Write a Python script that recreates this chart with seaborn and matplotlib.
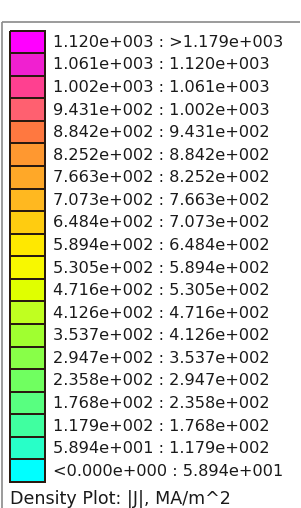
import numpy as np
import matplotlib
matplotlib.use("Agg")
import matplotlib.pyplot as plt
from matplotlib.colors import ListedColormap
import seaborn as sns

sns.set_theme(style="white")
plt.rcParams['font.family'] = ['DejaVu Sans']

# ---- data ----
lower_bounds = ["1.120e+003", "1.061e+003", "1.002e+003", "9.431e+002", "8.842e+002",
                "8.252e+002", "7.663e+002", "7.073e+002", "6.484e+002", "5.894e+002",
                "5.305e+002", "4.716e+002", "4.126e+002", "3.537e+002", "2.947e+002",
                "2.358e+002", "1.768e+002", "1.179e+002", "5.894e+001", "<0.000e+000"]
upper_bounds = [">1.179e+003", "1.120e+003", "1.061e+003", "1.002e+003", "9.431e+002",
                "8.842e+002", "8.252e+002", "7.663e+002", "7.073e+002", "6.484e+002",
                "5.894e+002", "5.305e+002", "4.716e+002", "4.126e+002", "3.537e+002",
                "2.947e+002", "2.358e+002", "1.768e+002", "1.179e+002", "5.894e+001"]
band_colors = ["#FF00FF", "#F020D0", "#FF4090", "#FF6070", "#FF7840",
               "#FF9830", "#FFA828", "#FFB820", "#FFCC10", "#FFE800",
               "#F8F800", "#E0FF00", "#C0FF20", "#A0FF30", "#88FF48",
               "#70FF60", "#58FF80", "#40FFA0", "#28FFC8", "#00FFFF"]
title = "Density Plot: |J|, MA/m^2"

labels = [f"{lo} : {hi}" for lo, hi in zip(lower_bounds, upper_bounds)]

W, H = 301, 508
fig = plt.figure(figsize=(W / 100, H / 100), dpi=100)
fig.patch.set_facecolor("white")

# frame axes in pixel coords
bg = fig.add_axes([0, 0, 1, 1])
bg.set_xlim(0, W)
bg.set_ylim(H, 0)
bg.axis("off")
bg.plot([1.5, 300], [21.5, 21.5], color="#8a8a8a", lw=1.2, solid_capstyle="butt")
bg.plot([1.5, 1.5], [21.5, H], color="#8a8a8a", lw=1.2, solid_capstyle="butt")

n = len(band_colors)
top, bottom = 30.5, 482.0
row_h = (bottom - top) / n
x0, x1 = 9.5, 45.0

# swatch column as a seaborn heatmap
hax = fig.add_axes([x0 / W, 1 - bottom / H, (x1 - x0) / W, (bottom - top) / H])
data = np.arange(n).reshape(n, 1)
sns.heatmap(data, ax=hax, cmap=ListedColormap(band_colors), cbar=False,
            linewidths=1.4, linecolor="#2a1a10", xticklabels=False, yticklabels=False)
for c in hax.collections:
    c.set_clip_on(False)
hax.set_xlabel("")
hax.set_ylabel("")

for i, lab in enumerate(labels):
    y = top + (i + 0.5) * row_h
    bg.text(53, y + 0.5, lab, fontsize=11.6, color="#1a1a1a", va="center", ha="left")

bg.text(10, 499, title, fontsize=12.6, color="#1a1a1a", va="center", ha="left")

fig.savefig("out.png", dpi=100, facecolor="white")
